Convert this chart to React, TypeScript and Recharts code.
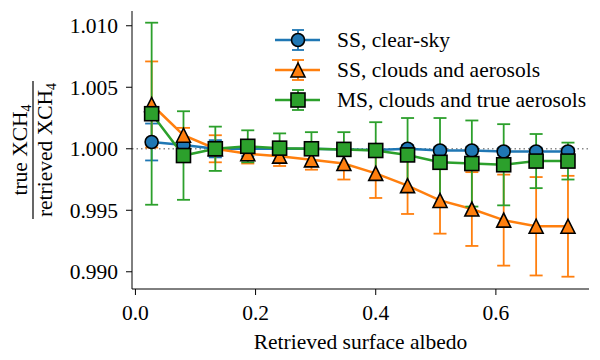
import React from 'react';
import { LineChart, Line, XAxis, YAxis, ErrorBar, ReferenceLine } from 'recharts';

// bin centres of retrieved albedo
const albedo = [0.027, 0.08, 0.133, 0.187, 0.24, 0.293, 0.347, 0.4, 0.453, 0.507, 0.56, 0.613, 0.667, 0.72];

const clearSky = [1.00055, 1.0003, 1.0, 1.0, 1.0, 1.0, 0.99995, 0.9999, 1.0, 0.99986, 0.99986, 0.99978, 0.99978, 0.99978];
const clearSkyErr = [0.0015, 0.0004, 0.0007, 0.0006, 0.0005, 0.0004, 0.0004, 0.0003, 0.0003, 0.0003, 0.0003, 0.0003, 0.0003, 0.0003];

const cloudsAerosols = [1.0036, 1.0011, 1.0, 0.9996, 0.9994, 0.9991, 0.9988, 0.998, 0.997, 0.9958, 0.9951, 0.9942, 0.9937, 0.9937];
const cloudsAerosolsErr = [0.0035, 0.0006, 0.0011, 0.0008, 0.0008, 0.0008, 0.0013, 0.002, 0.0023, 0.0027, 0.003, 0.0037, 0.004, 0.0041];

const msTrueAerosols = [1.00285, 0.99945, 1.0, 1.0002, 1.00005, 1.0, 0.99995, 0.99986, 0.9995, 0.9989, 0.9988, 0.9987, 0.999, 0.999];
const msTrueAerosolsErr = [0.0074, 0.0036, 0.0018, 0.0013, 0.0012, 0.00135, 0.0014, 0.0023, 0.003, 0.0036, 0.0035, 0.0033, 0.0022, 0.0015];

const xTicks = [0, 0.2, 0.4, 0.6];
const yTicks = [0.99, 0.995, 1.0, 1.005, 1.01];

const seriesNames = ['SS, clear-sky', 'SS, clouds and aerosols', 'MS, clouds and true aerosols'];

const BLUE = '#1f77b4';
const ORANGE = '#ff7f0e';
const GREEN = '#2ca02c';
const FONT = "'Liberation Serif', 'DejaVu Serif', serif";
const FS = 21.5;
const serif = { fontFamily: FONT };

const data = albedo.map((a, i) => ({
  albedo: a,
  clear: clearSky[i],
  clearErr: clearSkyErr[i],
  clouds: cloudsAerosols[i],
  cloudsErr: cloudsAerosolsErr[i],
  ms: msTrueAerosols[i],
  msErr: msTrueAerosolsErr[i],
}));

const Marker = ({ shape, cx, cy, fill }: any) => {
  if (cx == null || cy == null) return null;
  if (shape === 'circle') {
    return <circle cx={cx} cy={cy} r={6.5} fill={fill} stroke="#000" strokeWidth={1.6} />;
  }
  if (shape === 'square') {
    return <rect x={cx - 7} y={cy - 7} width={14} height={14} fill={fill} stroke="#000" strokeWidth={1.6} />;
  }
  return (
    <polygon
      points={`${cx},${cy - 7} ${cx - 7},${cy + 7} ${cx + 7},${cy + 7}`}
      fill={fill}
      stroke="#000"
      strokeWidth={1.6}
    />
  );
};

const YLabel = ({ viewBox }: any) => {
  const cx = 33;
  const cy = viewBox.y + viewBox.height / 2;
  return (
    <g transform={`translate(${cx},${cy}) rotate(-90)`} style={serif} fontSize={FS} fill="#000">
      <text x={0} y={-6} textAnchor="middle" style={serif}>
        true XCH<tspan dy={4} fontSize={14}>4</tspan>
      </text>
      <line x1={-69} x2={69} y1={0} y2={0} stroke="#000" strokeWidth={1.2} />
      <text x={0} y={19} textAnchor="middle" style={serif}>
        retrieved XCH<tspan dy={4} fontSize={14}>4</tspan>
      </text>
    </g>
  );
};

const legendRows = [
  { color: BLUE, shape: 'circle' },
  { color: ORANGE, shape: 'triangle' },
  { color: GREEN, shape: 'square' },
];

const LegendBox = () => (
  <svg width={330} height={100} style={{ position: 'absolute', left: 270, top: 25 }}>
    {legendRows.map((r, i) => {
      const y = 15 + i * 30;
      return (
        <g key={i}>
          <line x1={5} x2={50} y1={y} y2={y} stroke={r.color} strokeWidth={2.5} />
          <line x1={28} x2={28} y1={y - 10} y2={y + 10} stroke={r.color} strokeWidth={1.8} />
          <line x1={22} x2={34} y1={y - 10} y2={y - 10} stroke={r.color} strokeWidth={1.8} />
          <line x1={22} x2={34} y1={y + 10} y2={y + 10} stroke={r.color} strokeWidth={1.8} />
          <Marker shape={r.shape} cx={28} cy={y} fill={r.color} />
          <text x={67} y={y + 7} fontSize={FS} fill="#000" style={serif}>
            {seriesNames[i]}
          </text>
        </g>
      );
    })}
  </svg>
);

export default function App() {
  const tick = { fill: '#000', fontSize: FS, style: serif };
  return (
    <div style={{ position: 'absolute', left: 0, top: 0, width: 600, height: 360, background: '#fff', fontFamily: FONT }}>
      <LineChart width={600} height={360} data={data} margin={{ top: 11, right: 11, bottom: 0, left: 0 }} style={serif}>
        <XAxis
          dataKey="albedo"
          type="number"
          domain={[-0.0057, 0.755]}
          ticks={xTicks}
          tickFormatter={(v: number) => v.toFixed(1)}
          tick={tick}
          tickSize={6}
          tickMargin={10}
          height={71}
          stroke="#000"
          allowDataOverflow
          label={{ value: 'Retrieved surface albedo', position: 'insideBottom', offset: 11, fill: '#000', fontSize: FS, style: serif }}
        />
        <XAxis xAxisId="top" orientation="top" type="number" domain={[0, 1]} height={0} tick={false} tickLine={false} stroke="#000" />
        <YAxis
          type="number"
          domain={[0.9886, 1.0112]}
          ticks={yTicks}
          tickFormatter={(v: number) => v.toFixed(3)}
          tick={tick}
          tickSize={6}
          tickMargin={8}
          width={132}
          stroke="#000"
          allowDataOverflow
          label={{ content: YLabel }}
        />
        <YAxis yAxisId="right" orientation="right" type="number" domain={[0, 1]} width={0} tick={false} tickLine={false} stroke="#000" />
        <ReferenceLine y={1} stroke="#888" strokeWidth={1.5} strokeDasharray="1.5 3" />
        <Line
          dataKey="clear"
          stroke={BLUE}
          strokeWidth={2.5}
          isAnimationActive={false}
          dot={(p: any) => <Marker key={`c${p.index}`} shape="circle" cx={p.cx} cy={p.cy} fill={BLUE} />}
        >
          <ErrorBar dataKey="clearErr" direction="y" width={6.5} stroke={BLUE} strokeWidth={1.8} />
        </Line>
        <Line
          dataKey="clouds"
          stroke={ORANGE}
          strokeWidth={2.5}
          isAnimationActive={false}
          dot={(p: any) => <Marker key={`t${p.index}`} shape="triangle" cx={p.cx} cy={p.cy} fill={ORANGE} />}
        >
          <ErrorBar dataKey="cloudsErr" direction="y" width={6.5} stroke={ORANGE} strokeWidth={1.8} />
        </Line>
        <Line
          dataKey="ms"
          stroke={GREEN}
          strokeWidth={2.5}
          isAnimationActive={false}
          dot={(p: any) => <Marker key={`s${p.index}`} shape="square" cx={p.cx} cy={p.cy} fill={GREEN} />}
        >
          <ErrorBar dataKey="msErr" direction="y" width={6.5} stroke={GREEN} strokeWidth={1.8} />
        </Line>
      </LineChart>
      <LegendBox />
    </div>
  );
}
